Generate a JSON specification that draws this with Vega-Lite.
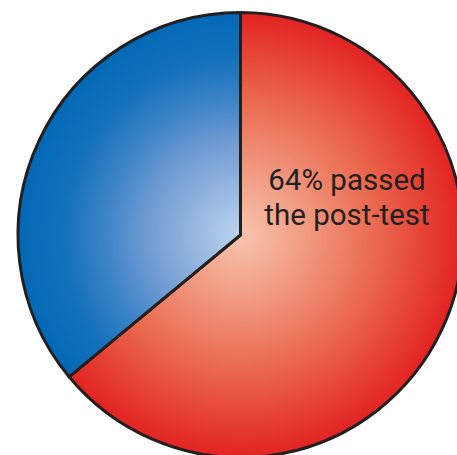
{
  "$schema": "https://vega.github.io/schema/vega-lite/v6.json",
  "width": 457,
  "height": 455,
  "autosize": {"type": "fit", "contains": "padding"},
  "padding": {"left": 24, "top": 15, "right": 0, "bottom": 0},
  "background": "white",
  "view": {"stroke": null},
  "data": {
    "values": [
      {"result": "passed", "percent": 64, "label": "64% passed\nthe post-test"},
      {"result": "failed", "percent": 36, "label": ""}
    ]
  },
  "encoding": {
    "theta": {"field": "percent", "type": "quantitative", "stack": true},
    "order": {"field": "percent", "type": "quantitative", "sort": "descending"}
  },
  "layer": [
    {
      "mark": {"type": "arc", "radius": 222.5, "stroke": "#231f20", "strokeWidth": 3, "strokeJoin": "miter"},
      "encoding": {
        "fill": {
          "condition": {
            "test": "datum.result === 'passed'",
            "value": {
              "gradient": "radial",
              "x1": 0.4426, "y1": 0.5, "r1": 0,
              "x2": 0.4426, "y2": 0.5, "r2": 0.5,
              "stops": [
                {"offset": 0, "color": "#f8c4ae"},
                {"offset": 0.2, "color": "#f3a88f"},
                {"offset": 0.6, "color": "#ea6a4f"},
                {"offset": 1, "color": "#e22322"}
              ]
            }
          },
          "value": {
            "gradient": "radial",
            "x1": 0.8054, "y1": 0.6107, "r1": 0,
            "x2": 0.8054, "y2": 0.6107, "r2": 0.6107,
            "stops": [
              {"offset": 0, "color": "#bdd3ef"},
              {"offset": 0.43, "color": "#6e9ad2"},
              {"offset": 0.6, "color": "#3f85c8"},
              {"offset": 0.8, "color": "#1370bb"},
              {"offset": 1, "color": "#0369b5"}
            ]
          }
        }
      }
    },
    {
      "mark": {
        "type": "text",
        "radius": 115.6,
        "thetaOffset": -0.8395,
        "align": "center",
        "baseline": "alphabetic",
        "font": "Roboto",
        "fontSize": 29.5,
        "lineHeight": 35,
        "lineBreak": "\n",
        "fill": "#231f20"
      },
      "encoding": {"text": {"field": "label"}}
    }
  ]
}
